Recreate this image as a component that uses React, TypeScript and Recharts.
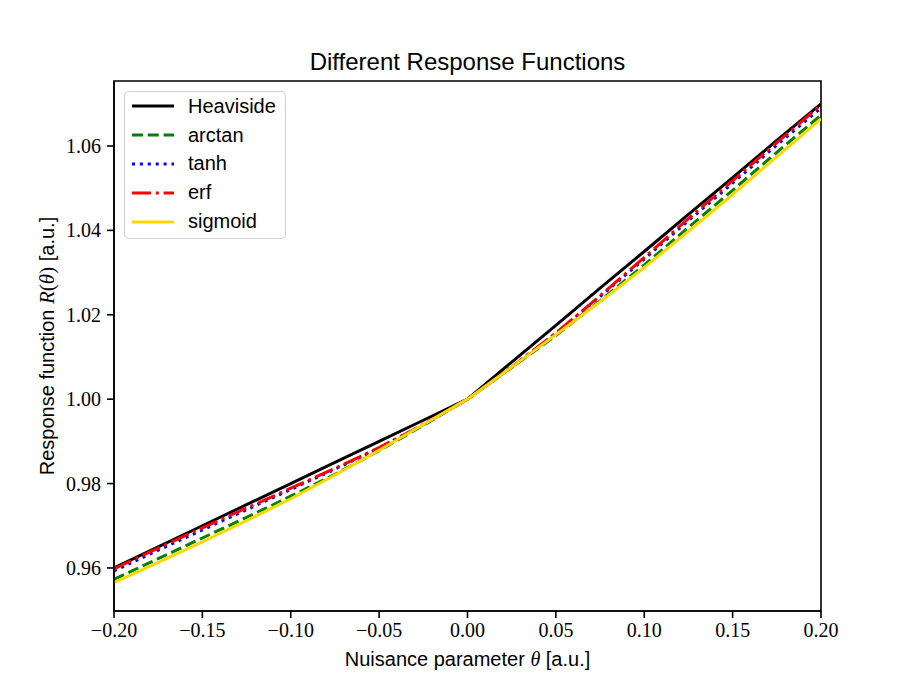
import React from 'react';
import { LineChart, Line, XAxis, YAxis, Legend, ReferenceArea } from 'recharts';

// nuisance parameter values (x)
const theta = [
  -0.2, -0.175, -0.15, -0.125, -0.1, -0.075, -0.05, -0.025, 0,
  0.025, 0.05, 0.075, 0.1, 0.125, 0.15, 0.175, 0.2,
];

// response values
const heaviside = [0.96, 0.965, 0.97, 0.975, 0.98, 0.985, 0.99, 0.995, 1.0, 1.0088, 1.0175, 1.0263, 1.035, 1.0438, 1.0525, 1.0613, 1.07];
const arctan = [0.9573, 0.9622, 0.9671, 0.972, 0.977, 0.9822, 0.9878, 0.9938, 1.0, 1.0075, 1.0151, 1.0233, 1.0318, 1.0407, 1.0495, 1.0585, 1.0673];
const tanh = [0.9593, 0.9642, 0.969, 0.9738, 0.9786, 0.9834, 0.9884, 0.994, 1.0, 1.0076, 1.0156, 1.0243, 1.0332, 1.0423, 1.0512, 1.0602, 1.069];
const erf = [0.9598, 0.9647, 0.9695, 0.9742, 0.9789, 0.9836, 0.9885, 0.994, 1.0, 1.0076, 1.0157, 1.0245, 1.0336, 1.0428, 1.0518, 1.0608, 1.0697];
const sigmoid = [0.9565, 0.9613, 0.9662, 0.9712, 0.9764, 0.982, 0.9879, 0.994, 1.0, 1.0076, 1.0153, 1.0231, 1.0312, 1.0398, 1.0485, 1.0575, 1.0664];

const xTicks = [-0.2, -0.15, -0.1, -0.05, 0, 0.05, 0.1, 0.15, 0.2];
const yTicks = [0.96, 0.98, 1.0, 1.02, 1.04, 1.06];

const X_DOMAIN: [number, number] = [-0.2, 0.2];
const Y_DOMAIN: [number, number] = [0.9498, 1.0754];

const series = [
  { key: 'heaviside', name: 'Heaviside', color: '#000000', dash: undefined as string | undefined },
  { key: 'arctan', name: 'arctan', color: '#008000', dash: '11 4.8' },
  { key: 'tanh', name: 'tanh', color: '#0000ff', dash: '3 4.9' },
  { key: 'erf', name: 'erf', color: '#ff0000', dash: '19 4.8 3 4.8' },
  { key: 'sigmoid', name: 'sigmoid', color: '#ffd700', dash: undefined as string | undefined },
];

const data = theta.map((t, i) => ({
  theta: t,
  heaviside: heaviside[i],
  arctan: arctan[i],
  tanh: tanh[i],
  erf: erf[i],
  sigmoid: sigmoid[i],
}));

const fmt = (v: number) => {
  const s = Math.abs(v).toFixed(2);
  return v < -1e-9 ? '\u2212' + s : s;
};

const tickStyle = { fill: '#000', fontFamily: '"Liberation Serif", serif', fontSize: 20 };
const sans = '"Liberation Sans", Arial, sans-serif';

const LegendBox = () => (
  <div
    style={{
      background: 'rgba(255,255,255,0.8)',
      border: '1.5px solid #d0d0d0',
      borderRadius: 5,
      padding: '0px 9px 2px 7px',
      fontFamily: sans,
      fontSize: 20,
      color: '#000',
    }}
  >
    {series.map((s) => (
      <div key={s.key} style={{ display: 'flex', alignItems: 'center', height: 28.8 }}>
        <svg width={42} height={10} style={{ marginRight: 14 }}>
          <line
            x1={0}
            y1={5}
            x2={42}
            y2={5}
            stroke={s.color}
            strokeWidth={3}
            strokeDasharray={s.dash}
          />
        </svg>
        <span>{s.name}</span>
      </div>
    ))}
  </div>
);

export default function App() {
  return (
    <div style={{ position: 'absolute', left: 0, top: 0, width: 913, height: 685, background: '#fff' }}>
      <LineChart
        width={913}
        height={685}
        data={data}
        margin={{ top: 81, right: 92, bottom: 34, left: 34 }}
      >
        <XAxis
          dataKey="theta"
          type="number"
          domain={X_DOMAIN}
          ticks={xTicks}
          tickFormatter={fmt}
          tick={tickStyle}
          tickSize={7}
          tickMargin={5}
          tickLine={{ stroke: '#000', strokeWidth: 1.6 }}
          axisLine={{ stroke: '#000', strokeWidth: 1.6 }}
          height={40}
          allowDataOverflow
        />
        <YAxis
          type="number"
          domain={Y_DOMAIN}
          ticks={yTicks}
          tickFormatter={(v: number) => v.toFixed(2)}
          tick={tickStyle}
          tickSize={7}
          tickMargin={6}
          tickLine={{ stroke: '#000', strokeWidth: 1.6 }}
          axisLine={{ stroke: '#000', strokeWidth: 1.6 }}
          width={80}
          allowDataOverflow
        />
        {series.map((s) => (
          <Line
            key={s.key}
            dataKey={s.key}
            name={s.name}
            type="linear"
            stroke={s.color}
            strokeWidth={3}
            strokeDasharray={s.dash}
            dot={false}
            activeDot={false}
            isAnimationActive={false}
          />
        ))}
        <ReferenceArea
          x1={X_DOMAIN[0]}
          x2={X_DOMAIN[1]}
          y1={Y_DOMAIN[0]}
          y2={Y_DOMAIN[1]}
          fill="none"
          fillOpacity={0}
          stroke="#000"
          strokeWidth={1.6}
          ifOverflow="visible"
        />
        <Legend
          layout="horizontal"
          verticalAlign="middle"
          align="center"
          content={() => <LegendBox />}
          wrapperStyle={{ position: 'absolute', left: 124, top: 91, width: 'auto' }}
        />
      </LineChart>

      <div
        style={{
          position: 'absolute',
          left: 467.5,
          top: 62,
          transform: 'translate(-50%, -50%)',
          fontFamily: sans,
          fontSize: 24,
          whiteSpace: 'nowrap',
        }}
      >
        Different Response Functions
      </div>
      <div
        style={{
          position: 'absolute',
          left: 467.5,
          top: 659,
          transform: 'translate(-50%, -50%)',
          fontFamily: sans,
          fontSize: 20,
          whiteSpace: 'nowrap',
        }}
      >
        Nuisance parameter <span style={{ fontFamily: '"Liberation Serif", serif', fontStyle: 'italic' }}>θ</span> [a.u.]
      </div>
      <div
        style={{
          position: 'absolute',
          left: 47,
          top: 346,
          transform: 'translate(-50%, -50%) rotate(-90deg)',
          fontFamily: sans,
          fontSize: 20,
          whiteSpace: 'nowrap',
        }}
      >
        Response function{' '}
        <span style={{ fontFamily: '"Liberation Serif", serif', fontSize: 21 }}>
          <i>R</i>(<i>θ</i>)
        </span>{' '}
        [a.u.]
      </div>
    </div>
  );
}
